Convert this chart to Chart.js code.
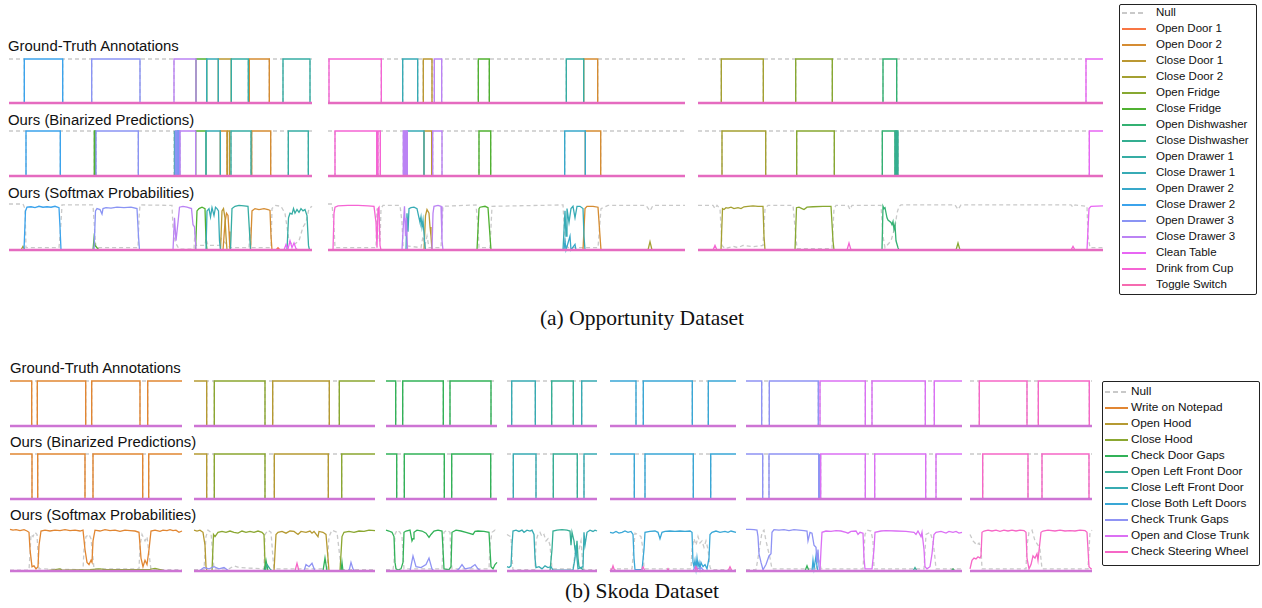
<!DOCTYPE html>
<html><head><meta charset="utf-8">
<script src="https://cdn.jsdelivr.net/npm/chart.js@4.4.1/dist/chart.umd.min.js"></script>
<style>
html,body{margin:0;padding:0;background:#fff;}
#root{position:relative;width:1262px;height:608px;overflow:hidden;background:#fff;font-family:"Liberation Sans",Arial,sans-serif;}
.title{position:absolute;font-size:14.9px;line-height:1;white-space:nowrap;color:#111;transform:translateY(-50%);}
.cap{position:absolute;font-family:"Liberation Serif","Times New Roman",serif;font-size:21.5px;line-height:1;white-space:nowrap;transform:translate(-50%,-50%);color:#111}
.legend{position:absolute;border:1px solid #222;border-radius:2px;box-sizing:border-box;background:#fff}
.li{position:absolute;white-space:nowrap;line-height:1;color:#111;transform:translateY(-50%);}
.sw{position:absolute;height:2px;}
canvas{position:absolute}
</style></head><body><div id="root"></div><script>
// ---------------- DATA ----------------
const ROW_TITLES = ["Ground-Truth Annotations", "Ours (Binarized Predictions)", "Ours (Softmax Probabilities)"];
const CAPTIONS = ["(a) Opportunity Dataset", "(b) Skoda Dataset"];
const OPP_CLASSES = ["Open Door 1","Open Door 2","Close Door 1","Close Door 2","Open Fridge","Close Fridge","Open Dishwasher","Close Dishwasher","Open Drawer 1","Close Drawer 1","Open Drawer 2","Close Drawer 2","Open Drawer 3","Close Drawer 3","Clean Table","Drink from Cup","Toggle Switch"];
const SKODA_CLASSES = ["Write on Notepad","Open Hood","Close Hood","Check Door Gaps","Open Left Front Door","Close Left Front Door","Close Both Left Doors","Check Trunk Gaps","Open and Close Trunk","Check Steering Wheel"];

// sequence lengths (frames) of each panel
const OPP_DURATION = [303, 357, 405];
const SKODA_DURATION = [172, 181, 111, 90, 126, 216, 122];

// segments: [start, end, classIndex]  (classIndex 1-based; 0 = Null)
const OPP_GT = [
  [[15.3,53.7,12],[82.7,131,13],[165,187,14],[187,197.7,6],[197.7,209.3,10],[209.3,222.3,3],[222.3,239.3,9],[240.3,260.3,2],[274,301,9]],
  [[1,53.3,16],[74.7,89.7,10],[95.3,104,3],[106.3,113.7,14],[150.3,161.3,6],[238.3,255.7,9],[255.7,269.7,2]],
  [[23.3,65.3,4],[97.7,134.3,5],[185,198.7,7],[388,405,15]]
];
const OPP_PRED = [
  [[17,51.3,12],[85.3,86.3,6],[87,129.3,13],[165,165.8,9],[166.3,167,13],[167.5,168.2,13],[168.7,169.4,12],[169.9,170.6,13],[171,186.7,14],[186.7,197,6],[197,211.3,10],[211.3,218,2],[218.5,220.7,3],[222,242,9],[242.7,261.7,2],[279.3,299.3,9]],
  [[7,48.7,16],[50,52.3,16],[75.3,76,14],[76.5,77.2,14],[77.7,78.4,14],[78.8,79.3,14],[79.3,96,10],[96,103.7,3],[104.7,114,14],[151,162.7,6],[236.7,257.3,11],[257.3,272.7,2]],
  [[24,67.7,4],[98.7,136.3,5],[184.3,197,7],[197.3,198,8],[198.4,199,7],[199.4,200,8],[391.3,405,15]]
];
// softmax curves: [classIndex, [[frame, prob], ...]]
const OPP_PROB_1 = [
  [0,[[0,1],[14,1],[16,0.9],[17,0.05],[50,0.05],[52,0.6],[53,0.98],[84,0.98],[86,0.3],[87,0.05],[129,0.05],[130,0.7],[131,0.98],[163,0.97],[164,0.5],[166,0.2],[168,0.1],[170,0.02],[185,0.02],[186,0.4],[187,0.1],[196,0.1],[197,0.25],[199,0.1],[211,0.1],[212,0.25],[221,0.05],[240,0.05],[241,0.5],[242,0.05],[262,0.05],[263,0.9],[266,0.97],[272,0.95],[276,0.8],[278,0.5],[280,0.2],[284,0.1],[290,0.2],[294,0.5],[297,0.6],[300,0.9],[303,0.95]]],
  [4,[[12,0],[14,0.08],[16,0]]],
  [12,[[15,0],[16.5,0.85],[18,0.93],[22,0.94],[26,0.92],[30,0.95],[34,0.93],[38,0.94],[42,0.93],[46,0.95],[50,0.92],[51,0.5],[52,0]]],
  [6,[[84,0],[85,0.25],[86,0.1],[88,0.05],[90,0],[186.5,0],[188,0.85],[190,0.9],[193,0.93],[196,0.9],[197,0.2],[198,0]]],
  [13,[[85,0],[86.5,0.85],[88,0.9],[91,0.88],[93,0.78],[94,0.9],[97,0.92],[102,0.91],[108,0.93],[115,0.92],[122,0.93],[128,0.9],[129.5,0.3],[130.5,0]]],
  [14,[[164,0],[165.5,0.7],[167,0.2],[169,0.6],[170.5,0.93],[174,0.95],[178,0.93],[182.5,0.9],[184,0.55],[185.5,0.5],[187,0]]],
  [10,[[197,0],[198,0.85],[200,0.9],[201.5,0.72],[203,0.92],[205,0.75],[206.5,0.93],[208,0.9],[209.5,0.85],[210.5,0.2],[211.5,0]]],
  [3,[[211.5,0],[213,0.85],[214.5,0.9],[216,0.7],[217,0.3],[218,0]]],
  [2,[[214,0],[216,0.6],[217.5,0.8],[219,0.75],[220,0.4],[221,0],[241.5,0],[243,0.85],[246,0.9],[250,0.88],[255,0.9],[259,0.88],[261,0.86],[262,0.3],[263,0]]],
  [1,[[267,0],[269,0.05],[271,0]]],
  [9,[[221.5,0],[223,0.9],[226,0.95],[230,0.97],[235,0.96],[239,0.95],[240.5,0.4],[241.5,0],[278,0],[279.5,0.7],[281,0.8],[283,0.78],[284.5,0.9],[286,0.8],[288,0.88],[290,0.82],[292,0.9],[294,0.85],[296,0.88],[298,0.75],[299.5,0.1],[300.5,0]]],
  [15,[[275,0],[277,0.12],[279,0.02],[281,0.2],[283,0.05],[285,0.15],[287,0.03],[289,0]]]
];
const OPP_PROB_2 = [
  [0,[[0,1],[4,1],[6,0.5],[7,0.05],[48,0.05],[49,0.9],[50,0.2],[52,0.2],[53,0.9],[55,0.97],[72,0.97],[74,0.6],[75,0.1],[93,0.05],[95,0.3],[97,0.1],[99,0.3],[101,0.05],[106,0.05],[113,0.05],[115,0.95],[148,0.98],[150,0.5],[151,0.05],[162,0.05],[164,0.95],[235,0.98],[237,0.2],[240,0.05],[270,0.05],[273,0.9],[280,0.97],[318,0.97],[322,0.85],[325,0.97],[357,0.97]]],
  [16,[[5,0],[6,0.8],[7,0.93],[10,0.96],[20,0.97],[30,0.97],[40,0.96],[46,0.95],[48,0.6],[49,0.05],[50,0.9],[51,0.93],[52,0.1],[53,0]]],
  [14,[[74,0],[75.5,0.6],[76.5,0.95],[77.5,0.3],[78.5,0.7],[79.5,0],[104,0],[105,0.8],[106,0.95],[110,0.97],[113,0.95],[114,0.2],[115,0]]],
  [10,[[78,0],[79,0.8],[80,0.4],[81,0.9],[83,0.92],[86,0.93],[89,0.9],[91,0.7],[92,0.6],[93,0.72],[94,0.5],[95,0.65],[96.5,0.2],[97.5,0],[235,0],[237,0.85],[238,0.3],[239,0.9],[241,0.6],[243,0.9],[245,0.95],[247,0.7],[249,0.95],[252,0.95],[255,0.9],[256,0.3],[257,0]]],
  [11,[[236,0],[237,0.2],[238,0],[242,0.3],[243,0],[247,0.12],[248,0]]],
  [3,[[96,0],[97.5,0.75],[99,0.88],[101,0.8],[102,0.5],[103,0.3],[104,0]]],
  [6,[[149,0],[151,0.9],[152,0.93],[157,0.95],[160,0.92],[162,0.3],[163,0]]],
  [2,[[255,0],[257,0.9],[259,0.95],[265,0.95],[270,0.93],[272,0.3],[273,0]]],
  [4,[[320,0],[322,0.18],[324,0]]]
];
const OPP_PROB_3 = [
  [0,[[0,0.97],[15,0.97],[17,0.9],[19,0.97],[22,0.9],[24,0.1],[27,0.03],[35,0.08],[40,0.05],[45,0.1],[55,0.07],[65,0.1],[67,0.9],[70,0.97],[95,0.97],[97,0.5],[99,0.03],[134,0.03],[136,0.9],[138,0.97],[150,0.97],[152,0.88],[154,0.97],[183,0.97],[185,0.3],[187,0.05],[193,0.2],[197,0.5],[199,0.8],[201,0.95],[203,0.98],[257,0.98],[260,0.88],[263,0.98],[373,0.98],[375,0.93],[377,0.98],[389,0.95],[390,0.3],[392,0.05],[405,0.05]]],
  [4,[[23,0],[24.5,0.9],[26,0.88],[28,0.92],[30,0.91],[33,0.93],[36,0.9],[40,0.92],[43,0.9],[46,0.94],[50,0.95],[55,0.96],[60,0.95],[65,0.95],[66,0.3],[67,0]]],
  [5,[[97,0],[98.5,0.92],[101,0.93],[104,0.9],[106,0.88],[109,0.93],[115,0.94],[125,0.95],[133,0.95],[135,0.2],[136,0],[258,0],[260,0.15],[262,0]]],
  [7,[[184,0],[185,0.95],[186,0.9],[187,0.92],[189,0.7],[190,0.65],[193,0.6],[194,0.55],[195,0.62],[196,0.45],[197,0.55],[198,0.2],[200,0.05],[201,0]]],
  [15,[[389,0],[391,0.9],[393,0.95],[405,0.96]]],
  [16,[[15,0],[17,0.1],[19,0],[149,0],[151,0.15],[153,0],[373,0],[375,0.08],[377,0]]]
];

const SKODA_GT = [
  [[0,21.7,1],[27.3,75.7,1],[81.7,130,1],[137.7,172,1]],
  [[0,12.7,2],[20.3,71,3],[78.7,135.3,2],[145.3,181,3]],
  [[0,9.7,4],[16.7,57.3,4],[64,105,4]],
  [[4.7,28.3,6],[44.7,66.3,5],[74.7,90,6]],
  [[0,26,7],[33.3,82.3,7],[98.3,126,7]],
  [[0,15.7,8],[23.3,72.3,8],[74,119.3,9],[126,179.3,9],[188.3,216,9]],
  [[9.3,57,10],[68.3,119.3,10]]
];
const SKODA_PRED = [
  [[0,22,1],[27.7,75,1],[83,132.7,1],[138.7,172,1]],
  [[0,12.7,2],[20.3,71,3],[80.3,134.3,2],[147.7,181,3]],
  [[0,10.7,4],[18.3,58.3,4],[65.7,104.7,4]],
  [[6.3,29,6],[46.3,70.3,5],[77,90,6]],
  [[0,24.3,7],[35,83.3,7],[100.7,126,7]],
  [[0,16.7,8],[23,72.7,8],[73,73.5,8],[74.7,119.3,9],[128.7,179.7,9],[190,216,9]],
  [[12.7,58,10],[72,119,10]]
];
const SKODA_PROB_1 = [
  [0,[[0,0.02],[19,0.02],[20,0.4],[21,0.85],[23,0.8],[25,0.9],[27,0.85],[28,0.4],[29,0.05],[73,0.03],[74,0.5],[76,0.8],[79,0.85],[81,0.75],[83,0.3],[84,0.05],[129,0.05],[130,0.6],[132,0.85],[135,0.7],[137,0.8],[139,0.4],[141,0.03],[172,0.03]]],
  [3,[[35,0],[45,0.03],[50,0.05],[52,0.02],[80,0.03],[90,0.05],[95,0.03],[140,0.04],[145,0.06],[150,0.03],[155,0]]],
  [1,[[0,0.97],[3,0.95],[6,0.96],[10,0.94],[14,0.96],[17,0.93],[19,0.9],[20,0.5],[22,0.1],[24,0.12],[26,0.05],[28,0.1],[29,0.6],[31,0.93],[35,0.95],[40,0.93],[45,0.95],[50,0.94],[55,0.96],[60,0.94],[65,0.95],[70,0.93],[73,0.95],[75,0.5],[77,0.2],[79,0.15],[81,0.25],[82,0.2],[83,0.7],[85,0.95],[90,0.93],[95,0.96],[100,0.94],[105,0.95],[110,0.92],[115,0.95],[120,0.94],[125,0.93],[129,0.9],[131,0.3],[133,0.1],[135,0.25],[137,0.15],[139,0.5],[141,0.93],[145,0.95],[150,0.92],[153,0.95],[157,0.94],[160,0.96],[163,0.94],[166,0.95],[169,0.9],[172,0.93]]]
];
const SKODA_PROB_2 = [
  [0,[[0,0.03],[10,0.03],[12,0.8],[14,0.95],[17,0.9],[19,0.3],[20,0.05],[35,0.05],[40,0.12],[45,0.08],[70,0.05],[71,0.85],[74,0.95],[77,0.9],[79,0.3],[80,0.05],[133,0.05],[135,0.8],[138,0.95],[143,0.9],[146,0.3],[147,0.03],[181,0.03]]],
  [2,[[0,0.95],[3,0.93],[6,0.95],[9,0.9],[11,0.6],[12,0.1],[13,0],[80,0],[82,0.85],[84,0.9],[88,0.92],[92,0.88],[96,0.93],[100,0.92],[104,0.85],[107,0.92],[112,0.9],[116,0.93],[118,0.88],[120,0.92],[124,0.8],[125,0.92],[129,0.9],[132,0.85],[134,0.3],[135,0]]],
  [3,[[18,0],[19.5,0.85],[21,0.8],[24,0.9],[28,0.92],[32,0.9],[36,0.93],[40,0.9],[44,0.88],[48,0.93],[52,0.9],[56,0.92],[60,0.9],[64,0.93],[68,0.9],[70,0.85],[71,0.2],[72,0],[146,0],[148,0.8],[150,0.9],[155,0.92],[160,0.9],[165,0.93],[170,0.92],[175,0.95],[181,0.94]]],
  [4,[[70,0],[72,0.25],[74,0],[129,0],[131,0.3],[133,0],[147,0],[148,0.2],[149,0]]],
  [5,[[71,0],[73,0.15],[76,0.05],[78,0]]],
  [8,[[5,0],[10,0.08],[15,0.05],[20,0.1],[25,0.05],[30,0.08],[35,0],[110,0],[112,0.15],[115,0.1],[118,0.18],[121,0],[155,0],[157,0.2],[159,0.05],[161,0]]],
  [10,[[101,0],[103,0.18],[105,0]]]
];
const SKODA_PROB_3 = [
  [0,[[0,0.03],[7,0.03],[8,0.2],[9,0.85],[11,0.95],[14,0.9],[16,0.8],[17,0.4],[18,0.05],[56,0.05],[57,0.5],[58,0.9],[61,0.95],[64,0.9],[65,0.3],[66,0.05],[103,0.05],[104,0.6],[106,0.9],[109,0.95],[111,0.9]]],
  [4,[[0,0.95],[3,0.93],[6,0.9],[8,0.8],[9,0.2],[10,0.05],[12,0.02],[15,0.05],[17,0.2],[18,0.9],[20,0.93],[24,0.95],[26,0.7],[27,0.75],[28,0.9],[31,0.95],[36,0.93],[40,0.88],[43,0.78],[45,0.85],[48,0.93],[52,0.95],[56,0.93],[57,0.5],[58,0.05],[63,0.03],[65,0.1],[66,0.9],[70,0.95],[75,0.93],[80,0.9],[87,0.85],[89,0.92],[92,0.93],[98,0.92],[103,0.9],[104,0.5],[105,0.1],[107,0.05],[109,0.15],[111,0.2]]],
  [8,[[24,0],[27,0.35],[30,0.1],[35,0.08],[40,0.15],[43,0.3],[46,0.05],[48,0],[70,0],[73,0.05],[76,0.15],[79,0.05],[85,0.08],[89,0.15],[92,0.05],[95,0]]]
];
const SKODA_PROB_4 = [
  [0,[[0,0.85],[2,0.82],[4,0.8],[5,0.3],[6,0.03],[28,0.03],[29,0.7],[31,0.85],[33,0.9],[35,0.8],[37,0.85],[39,0.7],[41,0.75],[43,0.6],[45,0.05],[66,0.05],[68,0.4],[70,0.6],[72,0.5],[74,0.7],[76,0.1],[77,0.03],[90,0.03]]],
  [5,[[43,0],[45,0.5],[46,0.93],[50,0.95],[55,0.96],[60,0.95],[63,0.93],[64,0.6],[65,0.9],[67,0.7],[68,0.5],[69,0.4],[70,0.7],[71,0.3],[72,0.1],[75,0.05],[77,0]]],
  [6,[[0,0.1],[2,0.08],[4,0.12],[5,0.6],[6,0.93],[9,0.95],[12,0.92],[15,0.95],[17,0.9],[20,0.95],[23,0.93],[25,0.95],[27,0.85],[28,0.3],[29,0.08],[32,0.1],[35,0.05],[38,0.12],[41,0.08],[44,0.1],[46,0.02],[66,0.02],[68,0.3],[69,0.6],[70,0.3],[71,0.05],[76,0.1],[77,0.9],[78,0.6],[80,0.9],[83,0.95],[86,0.92],[88,0.95],[90,0.93]]]
];
const SKODA_PROB_5 = [
  [0,[[0,0.05],[22,0.05],[24,0.6],[25,0.88],[28,0.85],[31,0.8],[33,0.5],[34,0.05],[81,0.05],[82,0.5],[84,0.75],[86,0.6],[88,0.8],[90,0.65],[92,0.7],[94,0.55],[96,0.7],[98,0.5],[100,0.1],[101,0.03],[126,0.03]]],
  [7,[[0,0.9],[3,0.88],[6,0.92],[9,0.88],[12,0.9],[15,0.93],[18,0.9],[21,0.92],[23,0.85],[24,0.3],[25,0.03],[32,0.03],[34,0.5],[35,0.9],[40,0.92],[45,0.93],[48,0.9],[50,0.75],[52,0.9],[55,0.92],[60,0.93],[65,0.92],[70,0.93],[75,0.92],[80,0.93],[82,0.9],[83,0.2],[84,0.1],[85,0.25],[86,0.05],[87,0.3],[88,0.1],[89,0.2],[90,0.05],[91,0.2],[93,0.1],[95,0.15],[97,0.05],[99,0.3],[100,0.85],[102,0.9],[106,0.93],[110,0.9],[115,0.92],[118,0.9],[121,0.93],[126,0.9]]],
  [8,[[83,0],[85,0.1],[88,0.05],[91,0.08],[94,0]]],
  [10,[[0,0],[2,0.05],[3,0.12],[4,0.05],[6,0],[31,0],[33,0.1],[35,0],[57,0],[58,0.05],[59,0],[85,0],[86,0.1],[88,0],[118,0],[120,0.1],[122,0]]]
];
const SKODA_PROB_6 = [
  [0,[[0,0.03],[10,0.03],[12,0.3],[14,0.6],[16,0.9],[18,0.95],[20,0.7],[22,0.5],[24,0.3],[26,0.05],[70,0.05],[72,0.3],[74,0.2],[75,0.05],[117,0.05],[119,0.85],[121,0.95],[125,0.93],[127,0.7],[128,0.05],[178,0.05],[180,0.85],[184,0.9],[187,0.7],[189,0.3],[190,0.05],[216,0.05]]],
  [4,[[59,0],[61,0.12],[63,0],[205,0],[207,0.05],[209,0]]],
  [5,[[167,0],[169,0.08],[171,0]]],
  [7,[[66,0],[67,0.25],[68,0.05],[70,0.35],[71,0.1],[72,0]]],
  [8,[[0,0.97],[4,0.97],[8,0.96],[11,0.95],[12,0.8],[13,0.4],[15,0.2],[17,0.03],[20,0.15],[23,0.35],[25,0.4],[26,0.9],[28,0.96],[33,0.95],[38,0.96],[43,0.94],[48,0.96],[53,0.95],[58,0.94],[61,0.93],[62,0.7],[64,0.9],[66,0.88],[68,0.6],[70,0.55],[71,0.2],[72,0.5],[73,0.1],[74,0]]],
  [9,[[74,0],[75,0.5],[76,0.9],[80,0.93],[85,0.92],[90,0.94],[95,0.93],[100,0.9],[102,0.88],[105,0.92],[110,0.93],[112,0.85],[114,0.9],[117,0.88],[118,0.3],[119,0.05],[126,0.05],[128,0.5],[129,0.9],[135,0.93],[140,0.94],[150,0.93],[160,0.92],[168,0.9],[170,0.85],[172,0.93],[175,0.8],[176,0.9],[178,0.5],[179,0.1],[181,0.05],[184,0.1],[186,0.4],[188,0.85],[190,0.9],[195,0.92],[200,0.88],[203,0.92],[207,0.9],[210,0.92],[213,0.88],[216,0.9]]]
];
const SKODA_PROB_7 = [
  [0,[[0,0.85],[3,0.7],[5,0.65],[7,0.6],[9,0.65],[11,0.55],[12,0.05],[56,0.05],[57,0.6],[59,0.9],[62,0.95],[65,0.7],[68,0.6],[70,0.5],[72,0.05],[118,0.05],[119,0.5],[120,0.9],[122,0.95]]],
  [10,[[0,0.05],[2,0.25],[4,0.3],[6,0.28],[8,0.33],[10,0.3],[11,0.35],[12,0.9],[14,0.93],[18,0.95],[22,0.93],[26,0.95],[30,0.92],[34,0.95],[38,0.93],[42,0.95],[46,0.93],[50,0.95],[54,0.94],[56,0.9],[57,0.3],[59,0.05],[61,0.15],[63,0.35],[65,0.3],[67,0.4],[68,0.25],[71,0.9],[73,0.93],[78,0.95],[85,0.93],[90,0.95],[95,0.93],[100,0.94],[105,0.93],[110,0.95],[115,0.94],[117,0.9],[118,0.5],[119,0.1],[121,0.05],[122,0.05]]]
];
const OPP_PROB = [OPP_PROB_1, OPP_PROB_2, OPP_PROB_3];
const SKODA_PROB = [SKODA_PROB_1, SKODA_PROB_2, SKODA_PROB_3, SKODA_PROB_4, SKODA_PROB_5, SKODA_PROB_6, SKODA_PROB_7];

// ---------------- LAYOUT / STYLE ----------------
const OPP_X = [[9,311.7],[328,685],[698,1103]];
const OPP_Y = [[59,103.3],[131.3,176.7],[204.3,250]];
const OPP_TITLE_Y = [45.7,120,193.3];
const SK_X = [[10,181.7],[194,375],[386,496.7],[507,597],[610,736],[746,961.7],[970,1091.7]];
const SK_Y = [[380.7,425.7],[453.7,499],[527.7,571]];
const SK_TITLE_Y = [368.3,442,515];
const NULL_COLOR = '#c9c9c9';
const OPP_BASE = '#e56bc0';
const SK_BASE = '#cd74d4';

function huslToHex(h, s, l) {
  const m = [[3.2406,-1.5372,-0.4986],[-0.9689,1.8758,0.0415],[0.0557,-0.2040,1.0570]];
  const refU=0.19784, refV=0.46834, labE=0.008856, labK=903.3;
  const hr=h/180*Math.PI, sinH=Math.sin(hr), cosH=Math.cos(hr);
  const sub1=Math.pow(l+16,3)/1560896, sub2=sub1>labE?sub1:l/labK;
  let mx=Infinity;
  for(const [m1,m2,m3] of m){
    const top=(0.99915*m1+1.05122*m2+1.14460*m3)*sub2;
    const rb=0.86330*m3-0.17266*m2, lb=0.12949*m3-0.38848*m1;
    const bottom=(rb*sinH+lb*cosH)*sub2;
    for(const t of [0,1]){ const C=l*(top-1.05122*t)/(bottom+0.17266*sinH*t); if(C>0&&C<mx) mx=C; }
  }
  const C=mx/100*s, U=Math.cos(hr)*C, V=Math.sin(hr)*C;
  const t=(l+16)/116, Y=(t*t*t>labE)?t*t*t:(116*t-16)/labK;
  const vu=U/(13*l)+refU, vv=V/(13*l)+refV;
  const X=0-(9*Y*vu)/((vu-4)*vv-vu*vv);
  const Z=(9*Y-15*vv*Y-vv*X)/(3*vv);
  return '#'+m.map(r=>r[0]*X+r[1]*Y+r[2]*Z)
    .map(c=>c<=0.0031308?12.92*c:1.055*Math.pow(c,1/2.4)-0.055)
    .map(c=>Math.round(Math.min(1,Math.max(0,c))*255).toString(16).padStart(2,'0')).join('');
}
function palette(n){ const out=[]; for(let i=0;i<n;i++){ out.push(huslToHex(((i/n+0.01)%1)*359, 0.9*99, 0.65*99)); } return out; }
const OPP_PAL = palette(OPP_CLASSES.length+1);
const SK_PAL = palette(SKODA_CLASSES.length+1);

const root=document.getElementById('root');
function el(tag, cls, style, text){ const e=document.createElement(tag); if(cls) e.className=cls; if(style) e.style.cssText=style; if(text!=null) e.textContent=text; root.appendChild(e); return e; }

function nullSteps(segs, dur){
  const iv=segs.map(s=>[s[0],s[1]]).sort((a,b)=>a[0]-b[0]);
  const mg=[];
  for(const [s,e] of iv){ if(mg.length && s<=mg[mg.length-1][1]+0.05) mg[mg.length-1][1]=Math.max(mg[mg.length-1][1],e); else mg.push([s,e]); }
  const pts=[];
  if(!mg.length || mg[0][0]>0) pts.push({x:0,y:1});
  for(const [s,e] of mg){
    if(s>0) pts.push({x:s,y:1});
    pts.push({x:Math.max(s,0),y:0},{x:Math.min(e,dur),y:0});
    if(e<dur) pts.push({x:e,y:1});
  }
  if(!mg.length || mg[mg.length-1][1]<dur) pts.push({x:dur,y:1});
  return pts;
}
function classSteps(segs, cls, dur){
  const pts=[];
  for(const [s,e] of segs.filter(g=>g[2]===cls).sort((a,b)=>a[0]-b[0])){
    if(s>0) pts.push({x:s,y:0});
    pts.push({x:s,y:1},{x:e,y:1});
    if(e<dur) pts.push({x:e,y:0});
    pts.push({x:e,y:null});
  }
  return pts;
}
function ds(data,color,w,order,dash){
  return {data,borderColor:color,borderWidth:w,pointRadius:0,fill:false,tension:0,order,clip:false,borderDash:dash||[],spanGaps:false,borderJoinStyle:'miter'};
}
function makeChart(xr,yr,dur,datasets){
  const pad=4;
  const w=Math.round(xr[1]-xr[0])+2*pad, h=Math.round(yr[1]-yr[0])+2*pad;
  const c=document.createElement('canvas');
  c.width=w; c.height=h;
  c.style.cssText=`left:${Math.round(xr[0])-pad}px;top:${Math.round(yr[0])-pad}px;width:${w}px;height:${h}px`;
  root.appendChild(c);
  new Chart(c,{type:'line',data:{datasets},options:{responsive:false,animation:false,devicePixelRatio:1,events:[],
    layout:{padding:pad},plugins:{legend:{display:false},tooltip:{enabled:false}},
    scales:{x:{type:'linear',min:0,max:dur,display:false},y:{type:'linear',min:0,max:1,display:false}}}});
}
function stepRow(segs,dur,pal,base){
  const out=[ds(nullSteps(segs,dur),NULL_COLOR,1.3,1000,[4,3])];
  const classes=[...new Set(segs.map(s=>s[2]))];
  for(const c of classes) out.push(ds(classSteps(segs,c,dur),pal[c],1.4,100-c));
  out.push(ds([{x:0,y:0},{x:dur,y:0}],base,2.6,0));
  return out;
}
function probRow(curves,dur,pal,base){
  const out=[];
  for(const [c,pts] of curves){
    const data=pts.map(p=>({x:p[0],y:p[1]}));
    if(c===0) out.push(ds(data,NULL_COLOR,1.3,1000,[4,3]));
    else out.push(ds(data,pal[c],1.3,100-c));
  }
  out.push(ds([{x:0,y:0},{x:dur,y:0}],base,2.6,0));
  return out;
}
function legend(box, names, pal, y0, dy, sx0, sx1, tx, fs){
  el('div','legend',`left:${box[0]}px;top:${box[1]}px;width:${box[2]}px;height:${box[3]}px`);
  const all=['Null',...names];
  all.forEach((n,i)=>{
    const y=y0+dy*i;
    const bg = i===0 ? `background:repeating-linear-gradient(90deg,${NULL_COLOR} 0 5px,transparent 5px 8px)` : `background:${pal[i]}`;
    el('div','sw',`left:${sx0}px;top:${Math.round(y)-1}px;width:${sx1-sx0}px;${bg}`);
    el('div','li',`left:${tx}px;top:${y}px;font-size:${fs}px`,n);
  });
}

// ---------------- BUILD ----------------
ROW_TITLES.forEach((t,i)=>el('div','title',`left:8px;top:${OPP_TITLE_Y[i]}px`,t));
ROW_TITLES.forEach((t,i)=>el('div','title',`left:10px;top:${SK_TITLE_Y[i]}px`,t));
OPP_X.forEach((xr,p)=>{
  const dur=OPP_DURATION[p];
  makeChart(xr,OPP_Y[0],dur,stepRow(OPP_GT[p],dur,OPP_PAL,OPP_BASE));
  makeChart(xr,OPP_Y[1],dur,stepRow(OPP_PRED[p],dur,OPP_PAL,OPP_BASE));
  makeChart(xr,OPP_Y[2],dur,probRow(OPP_PROB[p],dur,OPP_PAL,OPP_BASE));
});
SK_X.forEach((xr,p)=>{
  const dur=SKODA_DURATION[p];
  makeChart(xr,SK_Y[0],dur,stepRow(SKODA_GT[p],dur,SK_PAL,SK_BASE));
  makeChart(xr,SK_Y[1],dur,stepRow(SKODA_PRED[p],dur,SK_PAL,SK_BASE));
  makeChart(xr,SK_Y[2],dur,probRow(SKODA_PROB[p],dur,SK_PAL,SK_BASE));
});
legend([1119,4,138,291],OPP_CLASSES,OPP_PAL,13.3,15.98,1122,1146,1156,11.5);
legend([1102,381,158,185],SKODA_CLASSES,SK_PAL,392.3,15.94,1105,1128,1131,11.8);
el('div','cap','left:642px;top:319px',CAPTIONS[0]);
el('div','cap','left:642px;top:592px',CAPTIONS[1]);
</script></body></html>
